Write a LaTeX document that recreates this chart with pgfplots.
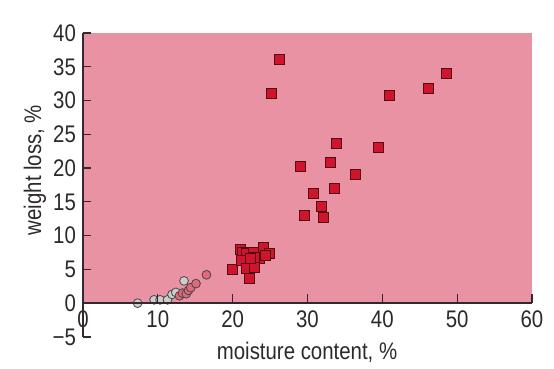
\documentclass[border=0pt]{standalone}
\usepackage{fontspec}
\setmainfont{Liberation Sans}[FakeStretch=0.85]
\usepackage{pgfplots}
\pgfplotsset{compat=1.18}
\definecolor{bgpink}{RGB}{233,146,163}
\definecolor{sqred}{RGB}{208,20,44}
\definecolor{sqedge}{RGB}{80,10,20}
\definecolor{graycirc}{RGB}{205,205,205}
\definecolor{pinkcirc}{RGB}{226,104,124}
\definecolor{edgegray}{RGB}{70,70,70}
\definecolor{axisgray}{RGB}{50,40,45}
\definecolor{textgray}{RGB}{45,40,45}
\begin{document}
\begin{tikzpicture}[font=\fontsize{12}{14}\selectfont, text=textgray]
\begin{axis}[
  set layers,
  scale only axis, width=224.5pt, height=152pt,
  xmin=0, xmax=60, ymin=-5, ymax=40,
  axis lines=middle,
  axis line style={-, draw=axisgray, line width=0.7pt},
  clip=false,
  hide obscured x ticks=false, hide obscured y ticks=false,
  xtick={0,10,20,30,40,50,60},
  xticklabels={0,10,20,30,40,50,60},
  ytick={-5,0,5,10,15,20,25,30,35,40},
  yticklabels={−5,0,5,10,15,20,25,30,35,40},
  major tick length=0pt,
  every axis x label/.style={at={(axis description cs:0.499,-0.049)}, anchor=center},
  every axis y label/.style={at={(axis description cs:-0.107,0.549)}, anchor=center, rotate=90},
  xlabel={moisture content, \%},
  ylabel={weight loss, \%},
]
\begin{pgfonlayer}{axis background}
\fill[bgpink] (axis cs:0,0) rectangle (axis cs:60,40);
\end{pgfonlayer}
\path (axis cs:-11.09,-9.44) rectangle (axis cs:62.94,44.88);
% gray circles
\addplot[only marks, mark=*, mark size=2.2pt, mark options={fill=graycirc, draw=edgegray, line width=0.4pt}]
coordinates {(7.3,0.0) (9.5,0.5) (10.3,0.5) (11.3,0.5) (11.9,1.3) (12.4,1.6) (13.5,3.3)};
% pink circles
\addplot[only marks, mark=*, mark size=2.2pt, mark options={fill=pinkcirc, draw=edgegray, line width=0.4pt}]
coordinates {(12.9,1.1) (13.3,1.5) (13.8,1.4) (14.1,1.9) (14.4,2.3) (15.1,2.9) (16.5,4.2)};
% red squares
\addplot[only marks, mark=square*, mark size=2.5pt, mark options={fill=sqred, draw=sqedge, line width=0.4pt}]
coordinates {
(19.9,5.0) (21.0,8.0) (21.3,7.5) (21.8,7.3) (21.2,6.3) (22.8,7.5) (24.1,8.3)
(24.9,7.4) (23.6,6.7) (22.9,6.8) (21.9,5.1) (22.9,5.3) (22.2,3.6) (24.4,7.1) (22.4,6.6)
(26.2,36.1) (25.2,31.0) (40.9,30.8) (46.2,31.8) (48.6,34.0) (33.8,23.6) (39.5,23.1)
(29.1,20.2) (33.1,20.9) (36.4,19.1) (33.6,17.0) (30.8,16.3) (31.8,14.3) (32.1,12.7) (29.6,13.0)
};
\begin{pgfonlayer}{axis foreground}
\draw[axisgray, line width=0.7pt] (axis cs:0,-5) -- (axis cs:0,40);
\draw[axisgray, line width=0.7pt] (axis cs:0,0) -- (axis cs:60,0);
\pgfplotsinvokeforeach{10,20,30,40,50,60}{
  \draw[axisgray, line width=0.6pt] (axis cs:#1,0) -- (axis cs:#1,1.4);
}
\pgfplotsinvokeforeach{-5,5,10,15,20,25,30,35,40}{
  \draw[axisgray, line width=0.6pt] (axis cs:0,#1) -- (axis cs:1.1,#1);
}
\end{pgfonlayer}
\end{axis}
\end{tikzpicture}
\end{document}
